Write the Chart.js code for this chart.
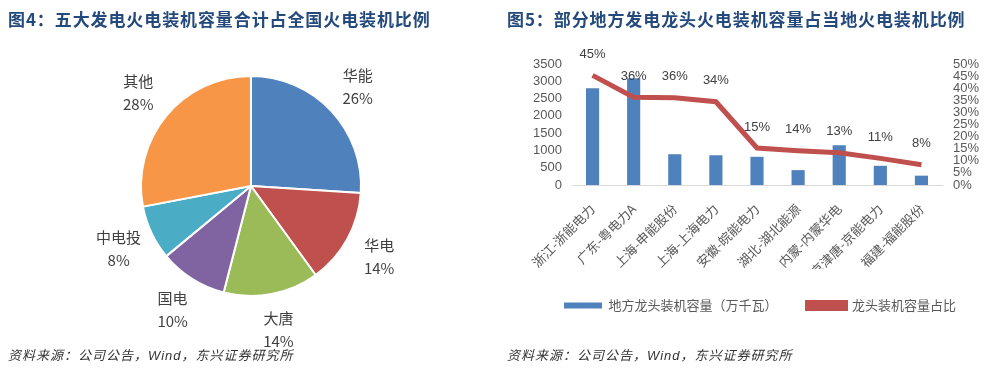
<!DOCTYPE html>
<html>
<head>
<meta charset="utf-8">
<script src="https://cdn.jsdelivr.net/npm/chart.js@4"></script>
<style>
  body { margin: 0; background: #fff; }
  #wrap { position: relative; width: 1000px; height: 378px; overflow: hidden; }
  canvas { position: absolute; top: 0; }
  .title {
    position: absolute; top: 6px; margin: 0;
    font: bold 17px "Noto Sans CJK SC", sans-serif; color: #24497C;
    white-space: nowrap; letter-spacing: 0.9px;
  }
  .source {
    position: absolute; top: 345px;
    font: italic 13px "Noto Sans CJK SC", sans-serif; color: #333;
    white-space: nowrap; letter-spacing: 1px;
  }
</style>
</head>
<body>
<div id="wrap">
  <canvas id="pieChart" width="500" height="378" style="left:0"></canvas>
  <canvas id="comboChart" width="500" height="378" style="left:500px"></canvas>
  <div class="title" style="left:8px">图4：五大发电火电装机容量合计占全国火电装机比例</div>
  <div class="title" style="left:507px">图5：部分地方发电龙头火电装机容量占当地火电装机比例</div>
  <div class="source" style="left:8px">资料来源：公司公告，<span style="font-family:'Liberation Sans'">Wind</span>，东兴证券研究所</div>
  <div class="source" style="left:507px">资料来源：公司公告，<span style="font-family:'Liberation Sans'">Wind</span>，东兴证券研究所</div>
</div>
<script>
// 图4 data
const pieLabels = ["华能", "华电", "大唐", "国电", "中电投", "其他"];
const pieShares = [26, 14, 14, 10, 8, 28];
const pieColors = ["#4F81BD", "#C0504D", "#9BBB59", "#8064A2", "#4BACC6", "#F79646"];

// 图5 data
const companies = ["浙江-浙能电力", "广东-粤电力A", "上海-申能股份", "上海-上海电力", "安徽-皖能电力",
                   "湖北-湖北能源", "内蒙-内蒙华电", "京津唐-京能电力", "福建-福能股份"];
const capacity = [2800, 3090, 890, 860, 815, 430, 1150, 555, 270];
const shareRatio = [0.453, 0.363, 0.361, 0.344, 0.153, 0.142, 0.133, 0.11, 0.084];
const leftTicks = [0, 500, 1000, 1500, 2000, 2500, 3000, 3500];
const rightTicks = [0, 0.05, 0.1, 0.15, 0.2, 0.25, 0.3, 0.35, 0.4, 0.45, 0.5];

const tickColor = "#595959";
const labelColor = "#404040";

// labels outside the pie slices
const pieLabelPlugin = {
    id: "pieLabels",
    afterDatasetsDraw(chart) {
        const ctx = chart.ctx;
        const meta = chart.getDatasetMeta(0);
        ctx.save();
        ctx.fillStyle = labelColor;
        ctx.font = '15px "Noto Sans CJK SC", sans-serif';
        ctx.textAlign = "center";
        ctx.textBaseline = "middle";
        meta.data.forEach((arc, i) => {
            const p = arc.getProps(["x", "y", "startAngle", "endAngle", "outerRadius"], true);
            const mid = (p.startAngle + p.endAngle) / 2;
            const r = p.outerRadius * 1.33;
            const x = p.x + Math.cos(mid) * r;
            const y = p.y + Math.sin(mid) * r;
            ctx.fillText(pieLabels[i], x, y - 11);
            ctx.fillText(pieShares[i] + "%", x, y + 12);
        });
        ctx.restore();
    }
};

new Chart(document.getElementById("pieChart").getContext("2d"), {
    type: "pie",
    data: {
        labels: pieLabels,
        datasets: [{
            data: pieShares,
            backgroundColor: pieColors,
            borderColor: "#ffffff",
            borderWidth: 2,
        }]
    },
    options: {
        responsive: false,
        animation: false,
        layout: { padding: { left: 140, right: 138, top: 75, bottom: 81 } },
        plugins: {
            legend: { display: false },
            tooltip: { enabled: false }
        }
    },
    plugins: [pieLabelPlugin]
});

// percentage labels above the line points
const pointLabelPlugin = {
    id: "pointLabels",
    afterDatasetsDraw(chart) {
        const ctx = chart.ctx;
        const meta = chart.getDatasetMeta(1);
        ctx.save();
        ctx.fillStyle = labelColor;
        ctx.font = '13px "Liberation Sans", sans-serif';
        ctx.textAlign = "center";
        ctx.textBaseline = "middle";
        meta.data.forEach((pt, i) => {
            ctx.fillText(Math.round(shareRatio[i] * 100) + "%", pt.x, pt.y - 21);
        });
        ctx.restore();
    }
};

new Chart(document.getElementById("comboChart").getContext("2d"), {
    data: {
        labels: companies,
        datasets: [
            {
                type: "bar",
                label: "地方龙头装机容量（万千瓦）",
                data: capacity,
                backgroundColor: "#4F81BD",
                barPercentage: 0.32,
                categoryPercentage: 1,
                yAxisID: "y",
                order: 2,
            },
            {
                type: "line",
                label: "龙头装机容量占比",
                data: shareRatio,
                borderColor: "#C0504D",
                backgroundColor: "#C0504D",
                borderWidth: 5,
                pointRadius: 0,
                tension: 0,
                yAxisID: "y1",
                order: 1,
            }
        ]
    },
    options: {
        responsive: false,
        animation: false,
        layout: { padding: { left: 20, right: 0, top: 64, bottom: 56 } },
        plugins: {
            tooltip: { enabled: false },
            legend: {
                position: "bottom",
                labels: {
                    boxWidth: 38,
                    boxHeight: 6,
                    padding: 30,
                    color: tickColor,
                    font: { size: 13, family: '"Noto Sans CJK SC", sans-serif' },
                    sort: (a, b) => a.datasetIndex - b.datasetIndex
                }
            }
        },
        scales: {
            x: {
                grid: { display: false },
                border: { color: "#D9D9D9", width: 1 },
                ticks: {
                    color: tickColor,
                    font: { size: 13, family: '"Noto Sans CJK SC", sans-serif' },
                    maxRotation: 45,
                    minRotation: 45,
                    padding: 8,
                    autoSkip: false
                },
                afterFit: (scale) => { scale.height = 84; }
            },
            y: {
                position: "left",
                min: 0,
                max: 3500,
                grid: { display: false },
                border: { display: false },
                afterBuildTicks: (scale) => { scale.ticks = leftTicks.map(v => ({ value: v })); },
                ticks: {
                    color: tickColor,
                    padding: 2,
                    autoSkip: false,
                    font: { size: 13, family: '"Liberation Sans", sans-serif' },
                    callback: (value) => String(value)
                },
                afterFit: (scale) => { scale.width = 52; }
            },
            y1: {
                position: "right",
                min: 0,
                max: 0.5,
                grid: { display: false },
                border: { display: false },
                afterBuildTicks: (scale) => { scale.ticks = rightTicks.map(v => ({ value: v })); },
                ticks: {
                    color: tickColor,
                    padding: 3,
                    autoSkip: false,
                    font: { size: 13, family: '"Liberation Sans", sans-serif' },
                    callback: (value) => Math.round(value * 100) + "%"
                },
                afterFit: (scale) => { scale.width = 58; }
            }
        }
    },
    plugins: [pointLabelPlugin]
});
</script>
</body>
</html>
